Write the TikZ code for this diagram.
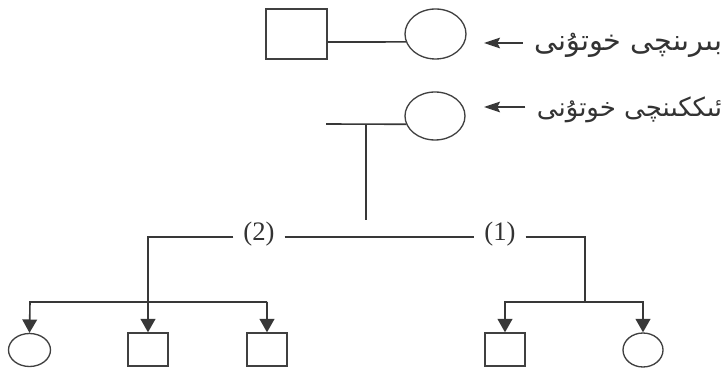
\documentclass[tikz,border=0pt]{standalone}
\usepackage{fontspec}
\setmainfont{Liberation Serif}
\newfontfamily\ugfont[Script=Arabic]{DejaVu Sans}
\TeXXeTstate=1
\usetikzlibrary{arrows.meta, shapes.geometric, positioning}

\begin{document}
\begin{tikzpicture}[
    x=0.75pt, y=-0.75pt,
    line width=1.2pt, draw=black!78,
    male/.style={draw=black!75, line width=1pt, rectangle, inner sep=0pt},
    female/.style={draw=black!75, line width=1pt, ellipse, inner sep=0pt},
    num/.style={inner sep=1pt, font=\fontsize{20}{22}\selectfont, text=black!80},
    ug/.style={inner sep=0pt, text=black!80},
    down/.style={-{Triangle[length=10pt,width=11pt]}},
    pointer/.style={-{Stealth[length=12pt,width=8pt,inset=2pt]}},
  ]
  \useasboundingbox (0,0) rectangle (727,373);

  %% ---- first wife ------------------------------------------------------
  \node[male, minimum width=45.75pt, minimum height=37.5pt] (fa) at (296.5,34) {};
  \node[female, minimum width=45.75pt, minimum height=37.5pt] (w1) at (435.5,34) {};
  \draw ([yshift=-6pt]fa.east) -- (w1.195);

  \node[ug, anchor=east, font=\ugfont\fontsize{21.5}{26}\selectfont] (t1) at (723,45)
    {\beginR بىرىنچى خوتۇنى\endR};
  \coordinate (tip1) at (484,43);
  \draw[pointer] (t1.west |- tip1) ++(-8pt,0) -- (tip1);

  %% ---- second wife -----------------------------------------------------
  \node[female, minimum width=45pt, minimum height=36pt] (w2) at (435,116) {};
  \coordinate (m2) at (326,124);
  \draw (m2) -- (w2.196);
  \coordinate (d1) at (366,124);
  \coordinate (d2) at (366,220);
  \draw (d1) -- (d2);

  \node[ug, anchor=east, font=\ugfont\fontsize{19.5}{24}\selectfont] (t2) at (723,110)
    {\beginR ئىككىنچى خوتۇنى\endR};
  \coordinate (tip2) at (484,107);
  \draw[pointer] (t2.west |- tip2) ++(-8pt,0) -- (tip2);

  %% ---- marriages -------------------------------------------------------
  \node[num] (n2) at (259,234) {(2)};
  \node[num] (n1) at (500,234) {(1)};
  \draw ([xshift=6pt]n2.east |- 0,237) -- ([xshift=-6pt]n1.west |- 0,237);

  %% ---- children ---------------------------------------------------------
  \node[female, minimum width=31.5pt, minimum height=24.75pt] (c1) at (29.5,350) {};
  \node[male, minimum width=30pt, minimum height=24.75pt] (s2) at (148,349.5) {};
  \node[male, minimum width=30pt, minimum height=24.75pt] (s3) at (267,349.5) {};
  \node[male, minimum width=30pt, minimum height=24.75pt] (s4) at (505,349.5) {};
  \node[female, minimum width=30pt, minimum height=25.5pt] (c2) at (643,350) {};

  \coordinate (b2) at (30,302);
  \coordinate (b1) at (585,302);
  \draw[down] ([xshift=-6pt]n2.west |- 0,237) -| (s2.north);
  \draw[down] (s3.north |- b2) -- (s3.north);
  \draw[down] (b2 -| s3.north) -- (b2) -- (c1.north);
  \draw ([xshift=6pt]n1.east |- 0,237) -| (b1);
  \draw[down] (b1) -| (s4.north);
  \draw[down] (b1) -| (c2.north);
\end{tikzpicture}
\end{document}
